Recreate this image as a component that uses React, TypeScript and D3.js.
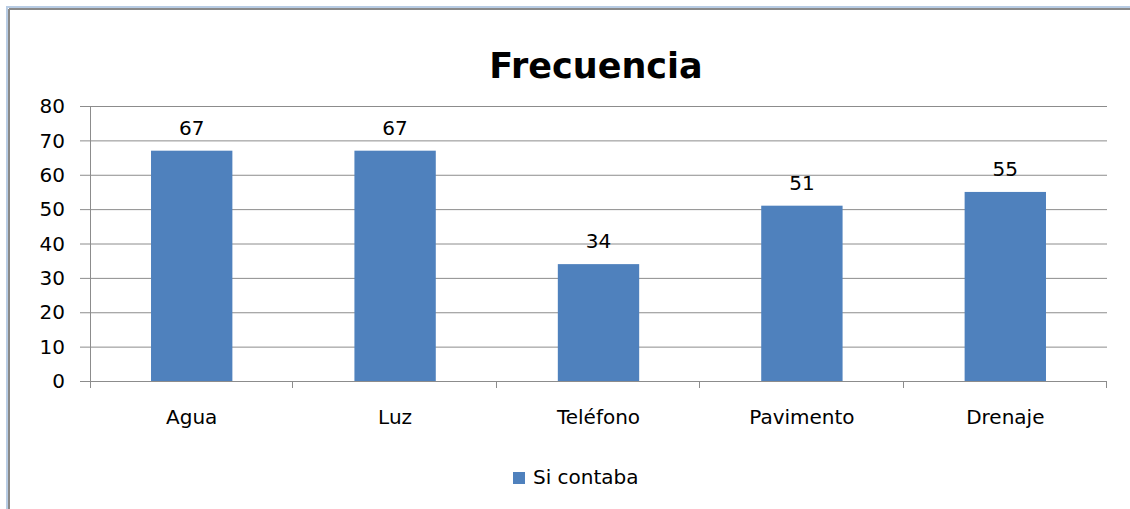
import React, { useEffect, useRef } from 'react';
import * as d3 from 'd3';

const categories = ['Agua', 'Luz', 'Teléfono', 'Pavimento', 'Drenaje'];
const siContaba = [67, 67, 34, 51, 55];
const yTicks = [0, 10, 20, 30, 40, 50, 60, 70, 80];
const seriesName = 'Si contaba';
const chartTitle = 'Frecuencia';

const App = () => {
    const ref = useRef<SVGSVGElement | null>(null);

    useEffect(() => {
        const root = d3.select(ref.current);
        root.selectAll('*').remove();

        const W = 1130, H = 509;
        const margin = { top: 106, right: 23, bottom: 128, left: 90 };
        const width = W - margin.left - margin.right;
        const height = H - margin.top - margin.bottom;
        const font = "'DejaVu Sans', Verdana, sans-serif";

        // window frame (top and left edges only)
        root.append('line').attr('x1', 6).attr('x2', W).attr('y1', 7).attr('y2', 7)
            .attr('stroke', '#b8cce4').attr('stroke-width', 2);
        root.append('line').attr('x1', 7).attr('x2', 7).attr('y1', 6).attr('y2', H)
            .attr('stroke', '#b8cce4').attr('stroke-width', 2);
        root.append('line').attr('x1', 9).attr('x2', W).attr('y1', 9).attr('y2', 9)
            .attr('stroke', '#8a8a8a').attr('stroke-width', 2);
        root.append('line').attr('x1', 9).attr('x2', 9).attr('y1', 9).attr('y2', H)
            .attr('stroke', '#8a8a8a').attr('stroke-width', 2);

        // title
        root.append('text')
            .attr('x', 596).attr('y', 78)
            .attr('text-anchor', 'middle')
            .style('font-family', font)
            .style('font-weight', 'bold')
            .style('font-size', '35px')
            .attr('fill', '#000')
            .text(chartTitle);

        const svg = root.append('g')
            .attr('transform', 'translate(' + margin.left + ',' + margin.top + ')');

        const x = d3.scaleBand<string>()
            .domain(categories)
            .range([0, width])
            .paddingInner(0.6)
            .paddingOuter(0.3);

        const y = d3.scaleLinear().domain([0, 80]).range([height, 0]);

        // gridlines + y ticks
        svg.selectAll('.grid')
            .data(yTicks)
            .enter().append('line')
            .attr('x1', -10).attr('x2', width)
            .attr('y1', d => y(d) + 0.5).attr('y2', d => y(d) + 0.5)
            .attr('stroke', '#8c8c8c').attr('stroke-width', 1);

        svg.selectAll('.ylab')
            .data(yTicks)
            .enter().append('text')
            .attr('x', -25)
            .attr('y', d => y(d))
            .attr('dy', '0.36em')
            .attr('text-anchor', 'end')
            .style('font-family', font)
            .style('font-size', '20px')
            .attr('fill', '#000')
            .text(d => d);

        // bars
        svg.selectAll('.bar')
            .data(siContaba)
            .enter().append('rect')
            .attr('x', (d, i) => x(categories[i]) as number)
            .attr('y', d => y(d))
            .attr('width', x.bandwidth())
            .attr('height', d => height - y(d))
            .attr('fill', '#4f81bd');

        // value labels
        svg.selectAll('.val')
            .data(siContaba)
            .enter().append('text')
            .attr('x', (d, i) => (x(categories[i]) as number) + x.bandwidth() / 2)
            .attr('y', d => y(d) - 16)
            .attr('text-anchor', 'middle')
            .style('font-family', font)
            .style('font-size', '20px')
            .attr('fill', '#000')
            .text(d => d);

        // axes lines
        svg.append('line')
            .attr('x1', 0.5).attr('x2', 0.5).attr('y1', 0).attr('y2', height + 7)
            .attr('stroke', '#8c8c8c');
        svg.append('line')
            .attr('x1', 0).attr('x2', width).attr('y1', height + 0.5).attr('y2', height + 0.5)
            .attr('stroke', '#8c8c8c');

        // category boundary ticks
        const bounds = categories.map((c, i) => i + 1);
        svg.selectAll('.xtick')
            .data(bounds)
            .enter().append('line')
            .attr('x1', d => Math.round(d * x.step()) - 0.5)
            .attr('x2', d => Math.round(d * x.step()) - 0.5)
            .attr('y1', height).attr('y2', height + 7)
            .attr('stroke', '#8c8c8c');

        // category labels
        svg.selectAll('.xlab')
            .data(categories)
            .enter().append('text')
            .attr('x', d => (x(d) as number) + x.bandwidth() / 2)
            .attr('y', height + 43)
            .attr('text-anchor', 'middle')
            .style('font-family', font)
            .style('font-size', '20px')
            .attr('fill', '#000')
            .text(d => d);

        // legend
        root.append('rect')
            .attr('x', 513).attr('y', 472)
            .attr('width', 12).attr('height', 12)
            .attr('fill', '#4f81bd');
        root.append('text')
            .attr('x', 533).attr('y', 484)
            .style('font-family', font)
            .style('font-size', '20px')
            .attr('fill', '#000')
            .text(seriesName);
    }, []);

    return (
        <div style={{ position: 'absolute', left: 0, top: 0 }}>
            <svg ref={ref} width={1130} height={509} style={{ display: 'block', background: '#fff' }} />
        </div>
    );
};

export default App;
